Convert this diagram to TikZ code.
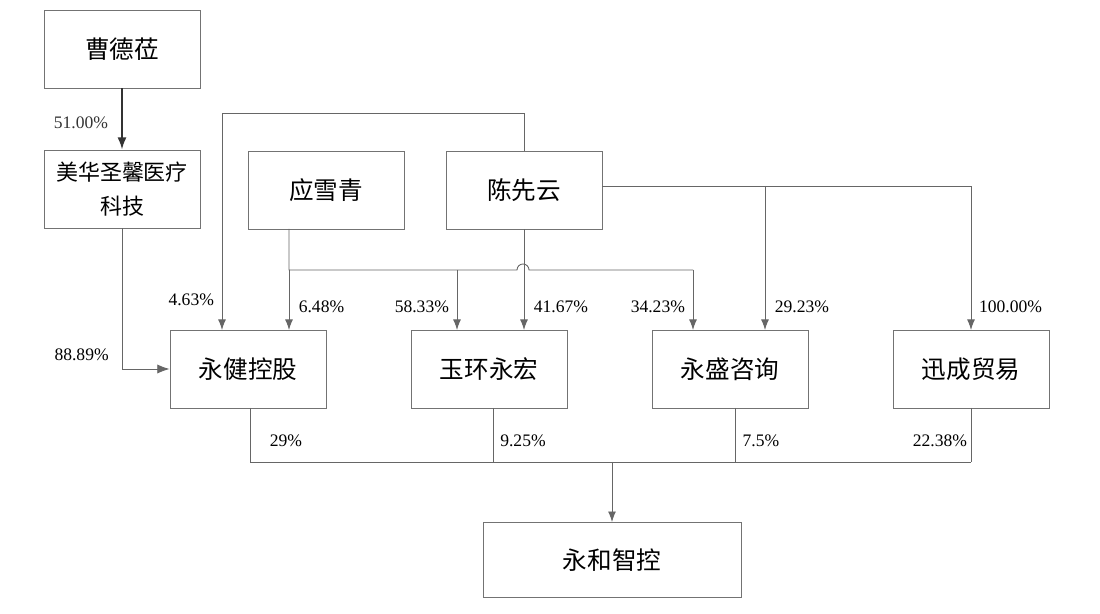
\documentclass[tikz,border=0pt]{standalone}
\usepackage{fontspec}
\setmainfont{Liberation Serif}
\newfontfamily\cjk{Noto Sans CJK SC}
\usetikzlibrary{arrows.meta}
\tikzset{
  firm/.style={draw=black!55,line width=0.5pt,minimum width=3.12cm,minimum height=1.56cm,font=\cjk\fontsize{14}{16}\selectfont,align=center,inner sep=1pt},
  link/.style={draw=black!60,line width=0.5pt},
  pct/.style={font=\fontsize{10}{12}\selectfont}
}
\begin{document}
\begin{tikzpicture}[x=0.02cm,y=-0.02cm]
  \useasboundingbox (0,0) rectangle (1100,614);
  \node[firm] (cao) at (122,49) {曹德莅};
  \node[firm,font=\cjk\fontsize{12.5}{19}\selectfont] (mei) at (122,189) {美华圣馨医疗\\科技};
  \node[firm] (ying) at (326,190) {应雪青};
  \node[firm] (chen) at (524,190) {陈先云};
  \node[firm] (yj) at (248,369) {永健控股};
  \node[firm] (yh) at (489,369) {玉环永宏};
  \node[firm] (ys) at (730,369) {永盛咨询};
  \node[firm] (xc) at (971,369) {迅成贸易};
  \node[firm,minimum width=5.16cm,minimum height=1.5cm] (zk) at (612,560) {永和智控};

  \draw[link,-{Latex[length=7pt]},line width=1.2pt,black!80] (cao) -- (mei) node[pct,midway,left=4pt,yshift=-2pt]{51.00\%};
  \draw[link,-{Latex[length=7pt]}] (mei.south) |- (yj.west) node[pct,pos=0.45,left=4pt]{88.89\%};
  \coordinate (top) at (524,113);
  \draw[link,-{Latex[length=6pt]}] (chen.north) -- (top) -| (222,330) node[pct,pos=0.93,left=1pt]{4.63\%};
  % bus from 应雪青 with a hop over 陈先云's line
  \draw[link] (289,229) -- (289,270) -- (517,270) arc(180:0:6 and -6) -- (693,270);
  \draw[link,-{Latex[length=6pt]}] (289,270) -- (289,330) node[pct,pos=0.62,right=2pt]{6.48\%};
  \draw[link,-{Latex[length=6pt]}] (457,270) -- (457,330) node[pct,pos=0.62,left=1pt]{58.33\%};
  \draw[link,-{Latex[length=6pt]}] (693,270) -- (693,330) node[pct,pos=0.62,left=1pt]{34.23\%};
  \draw[link,-{Latex[length=6pt]}] (chen.south) -- (524,330) node[pct,pos=0.77,right=2pt]{41.67\%};
  \draw[link,-{Latex[length=6pt]}] (chen.east |- 0,186) -| (971,330) node[pct,pos=0.92,right=1pt]{100.00\%};
  \draw[link,-{Latex[length=6pt]}] (765,186) -- (765,330) node[pct,pos=0.84,right=2pt]{29.23\%};
  % to 永和智控
  \draw[link] (250,408) -- (250,462) -- (971,462);
  \draw[link] (493,408) -- (493,462) (735,408) -- (735,462) (971,408) -- (971,462);
  \draw[link,-{Latex[length=6pt]}] (612,462) -- (zk.north);
  \node[pct] (p1) at (286,441) {29\%};
  \node[pct] (p2) at (523,441) {9.25\%};
  \node[pct] (p3) at (761,441) {7.5\%};
  \node[pct] (p4) at (940,441) {22.38\%};
\end{tikzpicture}
\end{document}
